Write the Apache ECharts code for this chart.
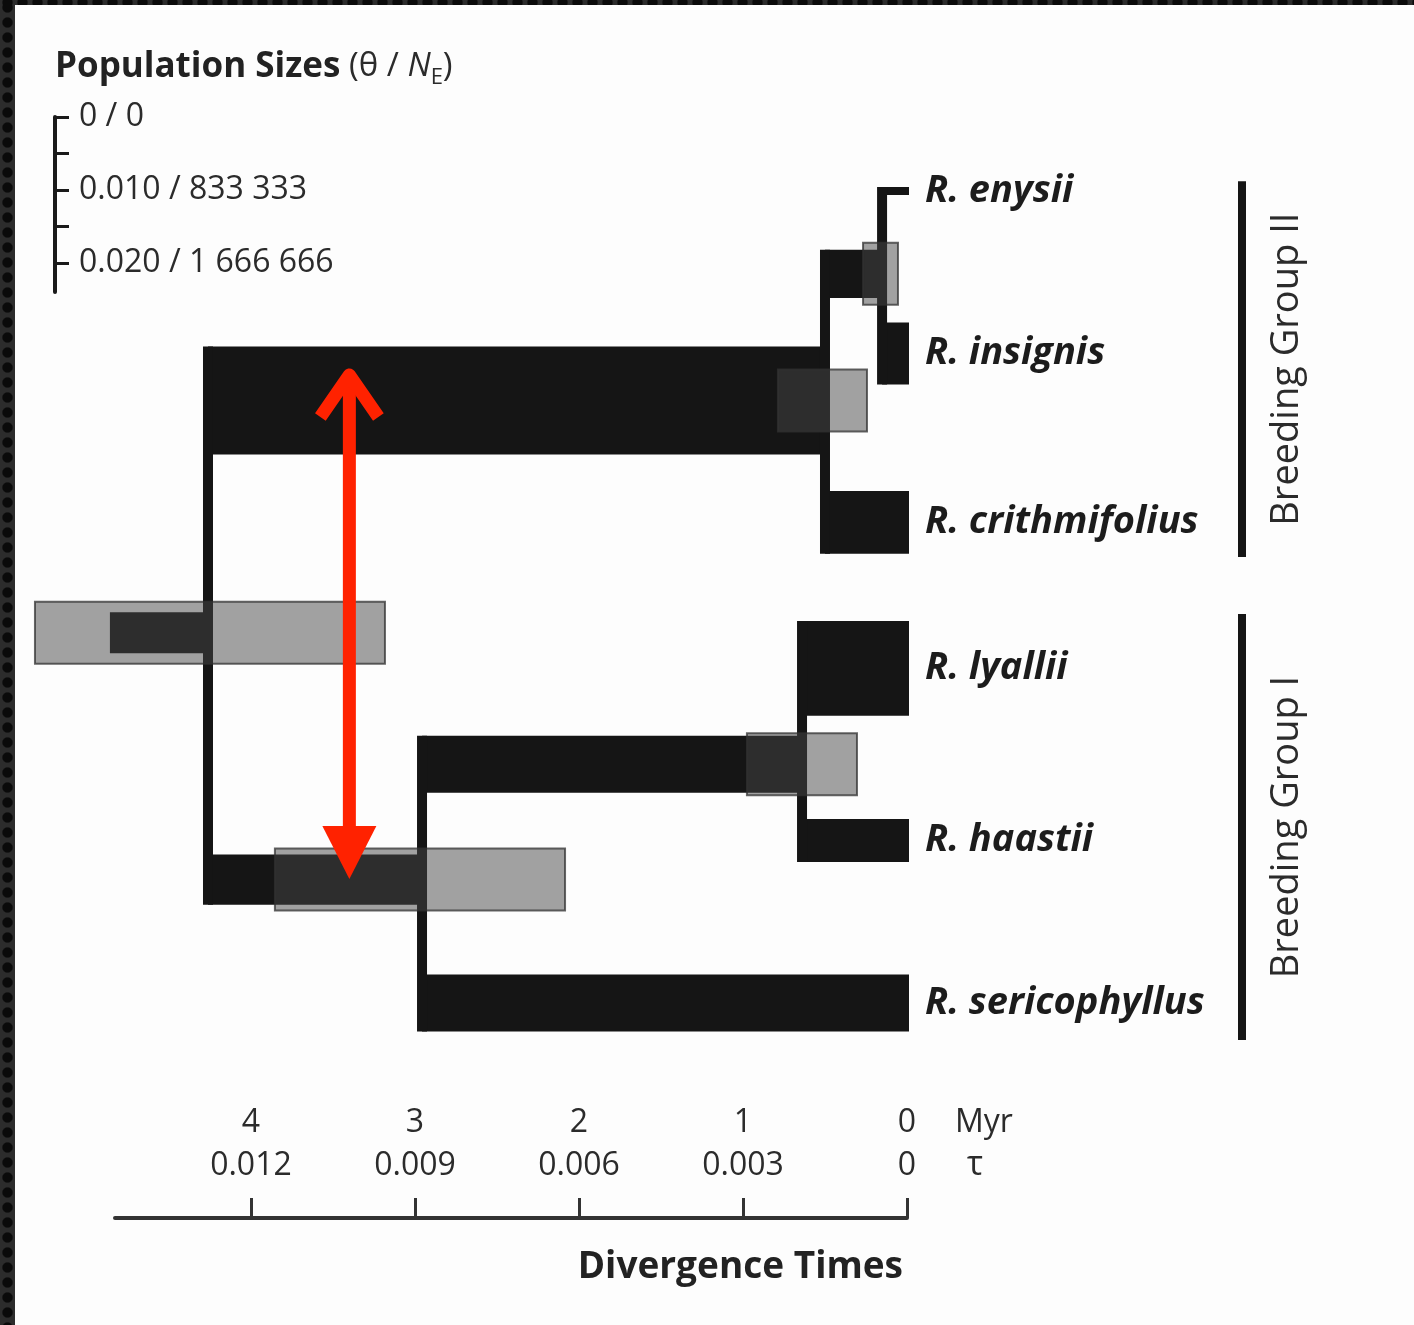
<!DOCTYPE html>
<html><head><meta charset="utf-8">
<script src="https://cdn.jsdelivr.net/npm/echarts@6/dist/echarts.min.js"></script>
<style>
html,body{margin:0;padding:0;background:#fdfdfd;overflow:hidden;}
#chart{position:absolute;left:0;top:0;width:1414px;height:1325px;}
.bl,.bt{position:absolute;left:0;top:0;background-color:#2c2c2c;
background-image:radial-gradient(circle at center,#0a0a0a 0,#0a0a0a 4.5px,transparent 5.8px);
background-size:15px 15px;z-index:5;}
.bl{width:15px;height:1325px;}
.bt{width:1414px;height:5px;background-position:0 -5px;}
</style></head><body>
<div id="chart"></div><div class="bl"></div><div class="bt"></div>
<script>
// ---------------- data ----------------
// one entry per population branch of the tree
const branchNames  = ['R. enysii','R. insignis','R. crithmifolius','R. lyallii','R. haastii','R. sericophyllus',
                      'enysii–insignis','Breeding Group II anc.','lyallii–haastii','Breeding Group I anc.','root'];
const branchParent = [6, 6, 7, 8, 8, 9, 7, 10, 9, 10, -1];
const branchRow    = [0, 1.00, 2.04, 2.94, 4.00, 5.00, 0.51, 1.29, 3.53, 4.24, 2.72];
const branchTheta  = [0.0011, 0.0085, 0.0086, 0.0130, 0.0059, 0.0078, 0.0066, 0.0148, 0.0078, 0.0069, 0.0056];
const nodeTime     = [0, 0, 0, 0, 0, 0, 0.152, 0.500, 0.640, 2.957, 4.262]; // Myr
const rootBarStart = 4.86;  // Myr
// 95% HPD of divergence times (Myr)
const hpdNode = [6, 7, 8, 9, 10];
const hpdLow  = [0.055, 0.244, 0.305, 2.085, 3.183];
const hpdHigh = [0.268, 0.787, 0.976, 3.854, 5.317];
// axis ticks
const myrTicks = [0, 1, 2, 3, 4];
const tauTicks = ['0', '0.003', '0.006', '0.009', '0.012'];
const thetaScaleTicks  = [0, 0.010, 0.020];
const thetaScaleLabels = ['0', '0.010', '0.020'];
const neScaleLabels    = ['0', '833 333', '1 666 666'];
// breeding groups (row spans)
const groupNames   = ['Breeding Group II', 'Breeding Group I'];
const groupFromRow = [-0.06, 2.605];
const groupToRow   = [2.254, 5.228];
// red double arrow annotation
const arrowTime = [3.40];
const arrowRows = [1.096, 4.236];

// ---------------- layout / style ----------------
const FONT = '"Open Sans","Noto Sans",sans-serif';
const BLACK = '#151515';
const ROW_STEP = 0.02227;      // vertical spacing of rows, in θ units
const LINE_W = 10;
const HPD_H = 62;
const TXT = '#2b2b2b';

const branchData = branchNames.map((n, i) => {
  const p = branchParent[i];
  return [p >= 0 ? nodeTime[p] : rootBarStart, nodeTime[i], branchRow[i] * ROW_STEP, branchTheta[i], i];
});
const connData = [];
branchNames.forEach((n, i) => {
  const kids = branchParent.map((p, k) => p === i ? k : -1).filter(k => k >= 0);
  if (!kids.length) return;
  const tops = kids.map(k => branchRow[k] * ROW_STEP - branchTheta[k] / 2);
  const bots = kids.map(k => branchRow[k] * ROW_STEP + branchTheta[k] / 2);
  connData.push([nodeTime[i], Math.min(...tops), Math.max(...bots)]);
});
const hpdData = hpdNode.map((n, j) => [hpdLow[j], hpdHigh[j], branchRow[n] * ROW_STEP]);
const groupData = groupNames.map((g, j) => [groupFromRow[j] * ROW_STEP, groupToRow[j] * ROW_STEP, j]);
const arrowData = arrowTime.map(t => [t, arrowRows[0] * ROW_STEP, arrowRows[1] * ROW_STEP]);

const chart = echarts.init(document.getElementById('chart'), null, {renderer: 'canvas'});

function renderBranch(params, api) {
  const t0 = api.value(0), t1 = api.value(1), y = api.value(2), th = api.value(3), idx = api.value(4);
  const p0 = api.coord([t0, y]), p1 = api.coord([t1, y]);
  const h = api.size([0, th])[1];
  const children = [{
    type: 'rect',
    shape: {x: Math.min(p0[0], p1[0]), y: p0[1] - h / 2, width: Math.abs(p1[0] - p0[0]) + (t1 === 0 ? 2 : 0), height: h},
    style: {fill: BLACK}
  }];
  if (t1 === 0) {
    children.push({
      type: 'text', x: p1[0] + 18, y: p1[1],
      style: {text: branchNames[idx], fill: '#1c1c1c', fontFamily: FONT, fontSize: 38,
              fontWeight: 'bold', fontStyle: 'italic', verticalAlign: 'middle', align: 'left'}
    });
  }
  return {type: 'group', children};
}
function renderConn(params, api) {
  const a = api.coord([api.value(0), api.value(1)]);
  const b = api.coord([api.value(0), api.value(2)]);
  return {type: 'rect', shape: {x: a[0] - LINE_W / 2, y: a[1], width: LINE_W, height: b[1] - a[1]}, style: {fill: BLACK}};
}
function renderHpd(params, api) {
  const a = api.coord([api.value(1), api.value(2)]);
  const b = api.coord([api.value(0), api.value(2)]);
  return {type: 'rect', shape: {x: a[0], y: a[1] - HPD_H / 2, width: b[0] - a[0], height: HPD_H},
          style: {fill: 'rgba(70,70,70,0.5)', stroke: 'rgba(50,50,50,0.75)', lineWidth: 2}};
}
function renderGroup(params, api) {
  const a = api.coord([0, api.value(0)]);
  const b = api.coord([0, api.value(1)]);
  const x = a[0] + 335;
  return {type: 'group', children: [
    {type: 'rect', shape: {x: x - 4, y: a[1], width: 8, height: b[1] - a[1]}, style: {fill: BLACK}},
    {type: 'text', x: x + 45, y: (a[1] + b[1]) / 2, rotation: Math.PI / 2,
     style: {text: groupNames[api.value(2)], fill: TXT, fontFamily: FONT, fontSize: 38,
             align: 'center', verticalAlign: 'middle'}}
  ]};
}
function renderArrow(params, api) {
  const top = api.coord([api.value(0), api.value(1)]);
  const bot = api.coord([api.value(0), api.value(2)]);
  const RED = '#ff2200';
  return {type: 'group', children: [
    {type: 'line', shape: {x1: top[0], y1: top[1] + 8, x2: bot[0], y2: bot[1] - 45}, style: {stroke: RED, lineWidth: 13}},
    {type: 'polyline', shape: {points: [[top[0] - 29, top[1] + 48], [top[0], top[1] + 6], [top[0] + 29, top[1] + 48]]},
     style: {stroke: RED, lineWidth: 13, lineJoin: 'round', fill: null}},
    {type: 'polygon', shape: {points: [[bot[0] - 27, bot[1] - 53], [bot[0] + 27, bot[1] - 53], [bot[0], bot[1]]]},
     style: {fill: RED}}
  ]};
}

const option = {
  backgroundColor: '#fdfdfd',
  animation: false,
  grid: [
    {left: 115, right: 507, top: 191, height: 812},
    {left: 55, top: 117, height: 175, width: 10}
  ],
  xAxis: [
    {type: 'value', gridIndex: 0, inverse: true, min: 0, max: 4.829, offset: 215,
     axisLine: {show: true, onZero: false, lineStyle: {color: '#333', width: 4}},
     axisTick: {show: true, inside: true, length: 20, customValues: myrTicks, lineStyle: {color: '#333', width: 3}},
     splitLine: {show: false},
     axisLabel: {inside: true, margin: 31, customValues: myrTicks,
       formatter: v => '{m|' + v + '}\n{t|' + tauTicks[myrTicks.indexOf(v)] + '}',
       rich: {m: {fontFamily: FONT, fontSize: 32, lineHeight: 43, color: TXT},
              t: {fontFamily: FONT, fontSize: 32, lineHeight: 43, color: TXT}}},
     name: '{m|Myr}\n{t|τ}', nameLocation: 'start', nameGap: 48,
     nameTextStyle: {align: 'left', verticalAlign: 'bottom', padding: [0, 0, 31, 0],
       rich: {m: {fontFamily: FONT, fontSize: 32, lineHeight: 43, color: TXT},
              t: {fontFamily: FONT, fontSize: 34, lineHeight: 43, color: TXT, padding: [0, 0, 0, 12]}}}
    },
    {type: 'value', gridIndex: 1, show: false, min: 0, max: 1}
  ],
  yAxis: [
    {type: 'value', gridIndex: 0, inverse: true, min: 0, max: 5 * ROW_STEP, show: false},
    {type: 'value', gridIndex: 1, inverse: true, min: 0, max: 0.024, interval: 0.005,
     axisLine: {show: true, onZero: false, lineStyle: {color: '#1a1a1a', width: 4}},
     axisTick: {show: true, inside: true, length: 14, customValues: [0, 0.005, 0.010, 0.015, 0.020],
                lineStyle: {color: '#1a1a1a', width: 3}},
     splitLine: {show: false},
     axisLabel: {inside: true, margin: 24, customValues: thetaScaleTicks, color: TXT, fontFamily: FONT, fontSize: 32,
       formatter: v => {
         const k = thetaScaleTicks.findIndex(x => Math.abs(x - v) < 1e-9);
         return thetaScaleLabels[k] + ' / ' + neScaleLabels[k];
       }}
    }
  ],
  graphic: [
    {type: 'text', x: 55, y: 67, style: {
      text: '{b|Population Sizes}{r| (θ / }{i|N}{s|E}{r|)}', verticalAlign: 'middle',
      rich: {b: {fontFamily: FONT, fontSize: 35, fontWeight: 'bold', fill: '#222', lineHeight: 44},
             r: {fontFamily: FONT, fontSize: 33, fill: TXT, lineHeight: 44},
             i: {fontFamily: FONT, fontSize: 33, fontStyle: 'italic', fill: TXT, lineHeight: 44},
             s: {fontFamily: FONT, fontSize: 22, fill: TXT, lineHeight: 44, verticalAlign: 'bottom'}}
    }},
    {type: 'text', x: 903, y: 1267, style: {text: 'Divergence Times', fontFamily: FONT, fontSize: 37,
      fontWeight: 'bold', fill: '#222', align: 'right', verticalAlign: 'middle'}}
  ],
  series: [
    {type: 'custom', name: 'branches', xAxisIndex: 0, yAxisIndex: 0, clip: false, z: 2,
     renderItem: renderBranch, data: branchData},
    {type: 'custom', name: 'connectors', xAxisIndex: 0, yAxisIndex: 0, clip: false, z: 2,
     renderItem: renderConn, data: connData},
    {type: 'custom', name: 'hpd', xAxisIndex: 0, yAxisIndex: 0, clip: false, z: 3,
     renderItem: renderHpd, data: hpdData},
    {type: 'custom', name: 'groups', xAxisIndex: 0, yAxisIndex: 0, clip: false, z: 2,
     renderItem: renderGroup, data: groupData},
    {type: 'custom', name: 'arrow', xAxisIndex: 0, yAxisIndex: 0, clip: false, z: 4,
     renderItem: renderArrow, data: arrowData}
  ]
};
chart.setOption(option);
</script>
</body></html>
